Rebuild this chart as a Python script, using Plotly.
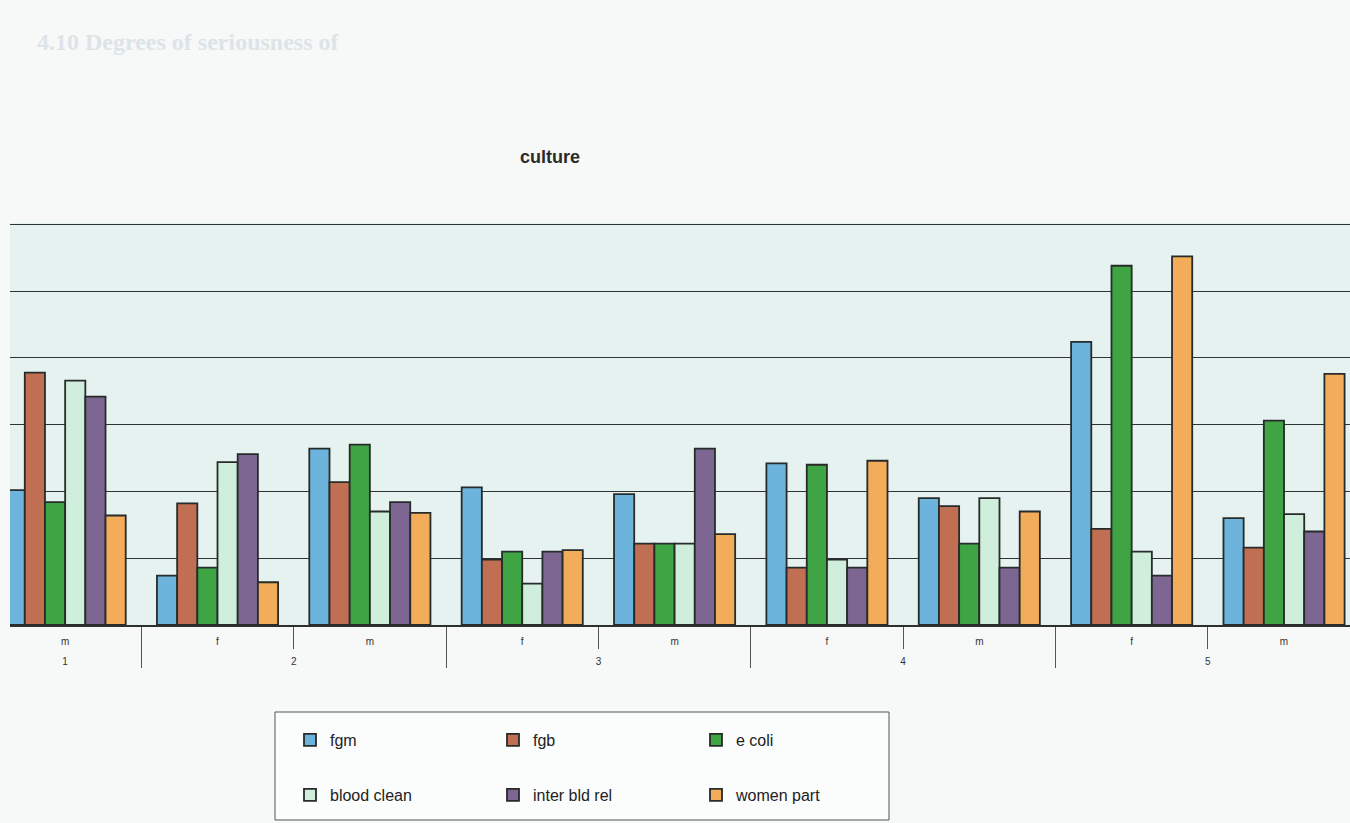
import plotly.graph_objects as go

# ---- data ----
outer = ["1", "1", "2", "2", "3", "3", "4", "4", "5", "5"]
inner = ["f", "m", "f", "m", "f", "m", "f", "m", "f", "m"]

series_names = ["fgm", "fgb", "e coli", "blood clean", "inter bld rel", "women part"]

fgm           = [None, 10.1, 3.7, 13.2, 10.3, 9.8, 12.1, 9.5, 21.2, 8.0]
fgb           = [None, 18.9, 9.1, 10.7, 4.9, 6.1, 4.3, 8.9, 7.2, 5.8]
e_coli        = [None, 9.2, 4.3, 13.5, 5.5, 6.1, 12.0, 6.1, 26.9, 15.3]
blood_clean   = [None, 18.3, 12.2, 8.5, 3.1, 6.1, 4.9, 9.5, 5.5, 8.3]
inter_bld_rel = [None, 17.1, 12.8, 9.2, 5.5, 13.2, 4.3, 4.3, 3.7, 7.0]
women_part    = [None, 8.2, 3.2, 8.4, 5.6, 6.8, 12.3, 8.5, 27.6, 18.8]

values = [fgm, fgb, e_coli, blood_clean, inter_bld_rel, women_part]
colors = ["#6cb4dc", "#c06f52", "#3ea444", "#cfeedb", "#7d6792", "#f2ac5a"]
legend_ids = ["legend", "legend", "legend", "legend2", "legend2", "legend2"]

# inner labels get an invisible second line so the outer row sits lower, as in the print
inner_labels = [s + "<br>&nbsp;" for s in inner]

W, H = 1350, 823
L, R, T, B = 10, 0, 223, 198
plot_w = W - L - R
plot_h = H - T - B

fig = go.Figure()
for name, vals, col, lg in zip(series_names, values, colors, legend_ids):
    fig.add_trace(go.Bar(
        x=[outer, inner_labels], y=vals, name=name,
        marker=dict(color=col, line=dict(color="#272b2a", width=1.8)),
        legend=lg,
    ))

def px_to_paper_x(px):
    return (px - L) / plot_w

def py_to_paper_y(py):
    return (H - B - py) / plot_h

legend_common = dict(orientation="h", xref="container", yref="container",
                     x=290 / W, xanchor="left", yanchor="middle",
                     entrywidth=158, bgcolor="rgba(0,0,0,0)", borderwidth=0,
                     font=dict(size=16, color="#222"))

fig.update_layout(
    width=W, height=H,
    margin=dict(l=L, r=R, t=T, b=B),
    paper_bgcolor="#f6f9f8",
    plot_bgcolor="#e6f2ef",
    barmode="group",
    bargap=0.205,
    bargroupgap=0,
    font=dict(family="Liberation Sans, Arial, sans-serif", color="#222"),
    title=dict(text="<b>culture</b>", x=550 / W, xref="container", xanchor="center",
               y=1 - 157 / H, yref="container", yanchor="middle",
               font=dict(size=18, color="#2a2a2a")),
    legend=dict(legend_common, y=1 - 740 / H),
    legend2=dict(legend_common, y=1 - 795 / H),
    showlegend=True,
)

fig.update_xaxes(
    type="multicategory",
    range=[0.638, 9.433],
    showline=True, linecolor="#2b2f2e", linewidth=1.6,
    ticks="outside", ticklen=22, tickcolor="#555", tickwidth=1,
    ticklabelstandoff=6,
    showdividers=True, dividercolor="#555", dividerwidth=1,
    tickfont=dict(size=10, color="#333"),
    showgrid=False,
)
fig.update_yaxes(
    range=[0, 30.1], dtick=5,
    showgrid=True, gridcolor="#2f3433", gridwidth=1.3,
    showticklabels=False, zeroline=False, showline=False,
)

# legend border box
fig.add_shape(type="rect", xref="paper", yref="paper",
              x0=px_to_paper_x(275), x1=px_to_paper_x(889),
              y0=py_to_paper_y(820), y1=py_to_paper_y(712),
              line=dict(color="#555", width=1), fillcolor="#fbfcfc", layer="below")

# faint page header from the scanned page
fig.add_annotation(text="<b>4.10 Degrees of seriousness of</b>", xref="paper", yref="paper",
                   x=px_to_paper_x(35), y=py_to_paper_y(42), xanchor="left", yanchor="middle",
                   showarrow=False, font=dict(family="Liberation Serif, serif", size=24, color="#dde4e8"))

fig.write_html("out.html")
